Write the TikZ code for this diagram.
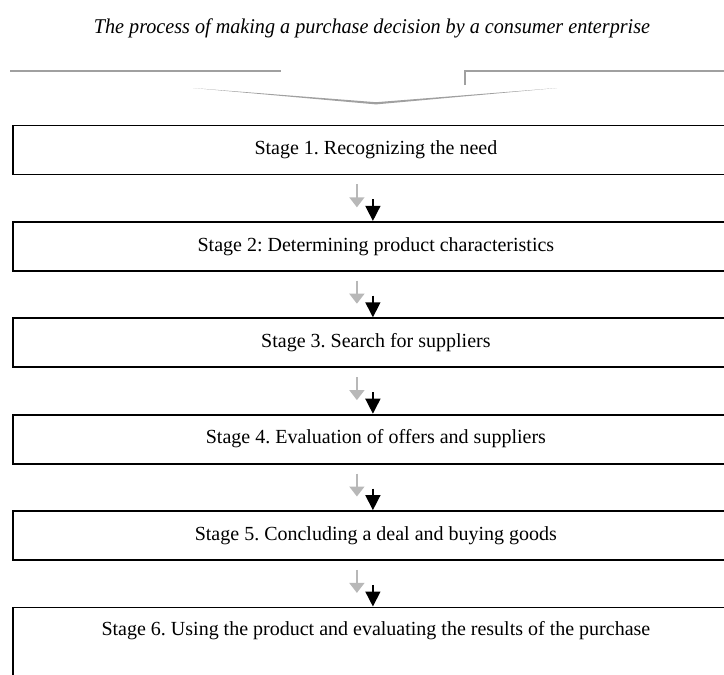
\documentclass[tikz,border=0pt]{standalone}
\usepackage{fontspec}
\setmainfont{Liberation Serif}
\usetikzlibrary{arrows.meta}
\definecolor{rulegray}{HTML}{A0A0A0}
\definecolor{softgray}{HTML}{B8B8B8}
\frenchspacing
\begin{document}
\begin{tikzpicture}[x=1pt,y=-1pt,
  stagebox/.style={draw=black, line width=1.8pt, anchor=north west,
    minimum width=726pt, minimum height=49pt, inner sep=0pt,
    font=\fontsize{20}{23}\selectfont},
  stagetext/.style={font=\fontsize{20}{23}\selectfont, inner sep=0pt},
  greyarrow/.style={draw=softgray, line width=1.6pt,
    -{Triangle[width=15pt,length=10pt]}, softgray},
  darkarrow/.style={draw=black, line width=1.5pt,
    -{Triangle[width=15pt,length=15pt]}, black},
  topline/.style={draw=rulegray, line width=2.2pt}]
\useasboundingbox (0,0) rectangle (724,675);

% title
\node (title) at (372,28) {\fontsize{21}{24}\selectfont\itshape\scalebox{0.96}[1]{The process of making a purchase decision by a consumer enterprise}};

% bracket-like rule with chevron
\coordinate (la) at (10,70.7);
\coordinate (lb) at (281,70.7);
\coordinate (ra) at (465,85);
\coordinate (rb) at (465,70.7);
\coordinate (rc) at (730,70.7);
\draw[topline] (la) -- (lb);
\draw[topline] (ra) -- (rb) -- (rc);
\coordinate (cl) at (193,88);
\coordinate (ct) at (376,102.2);
\coordinate (cb) at (376,104.4);
\coordinate (cr) at (557,88);
\fill[rulegray] (cl) -- (ct) -- (cr) -- (cb) -- cycle;

% stage boxes
\node[stagebox] (s1) at (12,124.5) {Stage 1. Recognizing the need};
\node[stagebox] (s2) at (12,220.9) {Stage 2: Determining product characteristics};
\node[stagebox] (s3) at (12,317.3) {Stage 3. Search for suppliers};
\node[stagebox] (s4) at (12,413.7) {Stage 4. Evaluation of offers and suppliers};
\node[stagebox] (s5) at (12,510.1) {Stage 5. Concluding a deal and buying goods};
\node[stagebox, minimum height=90pt] (s6) at (12,606.5) {};
\node[stagetext] (t6) at ([yshift=-24.5pt]s6.north) {Stage 6. Using the product and evaluating the results of the purchase};

% pairs of arrows between consecutive stages
\foreach \a/\b in {s1/s2, s2/s3, s3/s4, s4/s5, s5/s6}{
  \coordinate (g0) at ([xshift=-19pt,yshift=-9pt]\a.south);
  \coordinate (g1) at ([xshift=-19pt,yshift=-32pt]\a.south);
  \coordinate (k0) at ([xshift=-3pt,yshift=-24pt]\a.south);
  \coordinate (k1) at ([xshift=-3pt]\b.north);
  \draw[greyarrow] (g0) -- (g1);
  \draw[darkarrow] (k0) -- (k1);
}
\end{tikzpicture}
\end{document}
